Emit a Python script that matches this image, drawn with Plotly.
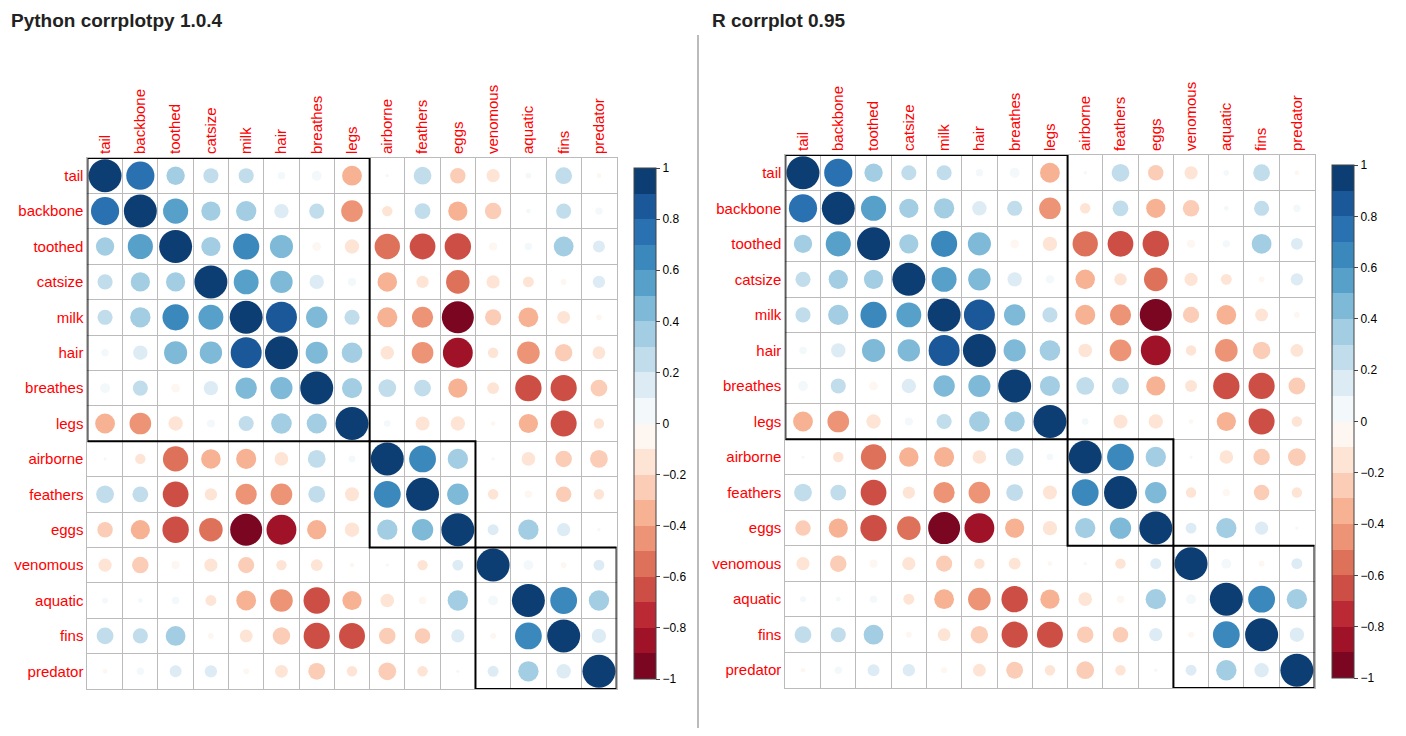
import numpy as np
import plotly.graph_objects as go
from plotly.colors import sample_colorscale

labels = ["tail","backbone","toothed","catsize","milk","hair","breathes","legs",
          "airborne","feathers","eggs","venomous","aquatic","fins","predator"]
# upper triangle rows (values to the right of diagonal)
upper = [
    [.73,.31,.21,.21,.05,.09,-.36,.01,.29,-.22,-.16,.03,.26,-.02],
    [.58,.34,.38,.19,.21,-.43,-.10,.23,-.34,-.25,.02,.21,.05],
    [.34,.63,.49,-.07,-.19,-.59,-.61,-.64,-.06,.05,.36,.13],
    [.57,.46,.19,.06,-.35,-.14,-.51,-.16,-.11,-.03,.14],
    [.88,.42,.21,-.37,-.41,-.94,-.24,-.36,-.15,-.03],
    [.45,.39,-.17,-.43,-.82,-.10,-.47,-.28,-.15],
    [.37,.29,.26,-.34,-.13,-.64,-.63,-.26],
    [.04,-.18,-.19,-.02,-.34,-.62,-.10],
    [.66,.38,.01,-.17,-.25,-.29],
    [.42,-.10,-.05,-.22,-.10],
    [.11,.38,.16,.01],
    [.09,-.03,.11],
    [.66,.38],
    [.19],
]
groups = [(0, 7), (8, 10), (11, 14)]
cb_ticks = [-1, -0.8, -0.6, -0.4, -0.2, 0, 0.2, 0.4, 0.6, 0.8, 1]

n = len(labels)
M = np.eye(n)
for i, row in enumerate(upper):
    for k, v in enumerate(row):
        M[i, i + 1 + k] = v
        M[i + 1 + k, i] = v

base = ['rgb(103,0,31)', 'rgb(178,24,43)', 'rgb(214,96,77)', 'rgb(244,165,130)',
        'rgb(253,219,199)', 'rgb(255,255,255)', 'rgb(209,229,240)', 'rgb(146,197,222)',
        'rgb(67,147,195)', 'rgb(33,102,172)', 'rgb(5,48,97)']
nb = 20
cols = sample_colorscale(base, [(k + 0.5) / nb for k in range(nb)])
cscale = []
for k, c in enumerate(cols):
    cscale += [[k / nb, c], [(k + 1) / nb, c]]

OX, OY = 9, 8
W, H = 1406 - 2 * OX, 736 - 2 * OY
panels = [
    dict(x0=89, x1=622, y0=158, y1=689, cbx=629),
    dict(x0=792, x1=1325, y0=155, y1=688, cbx=1333),
]
def px(x): return (x - OX) / W
def py(y): return 1 - (y - OY) / H

fig = go.Figure()
xs, ys, vs = [], [], []
for i in range(n):
    for j in range(n):
        xs.append(j); ys.append(i); vs.append(M[i, j])
vs = np.array(vs)
shapes = []
for p, P in enumerate(panels):
    sfx = "" if p == 0 else "2"
    fig.add_trace(go.Scatter(
        x=xs, y=ys, mode="markers", xaxis="x" + sfx, yaxis="y" + sfx,
        marker=dict(size=33 * np.sqrt(np.abs(vs)), color=vs, cmin=-1, cmax=1,
                    opacity=1,
                    colorscale=cscale, line=dict(width=0),
                    colorbar=dict(x=px(P["cbx"]), xanchor="left", thickness=22,
                                  y=(py(P["y0"]) + py(P["y1"])) / 2, yanchor="middle",
                                  len=py(P["y0"]) - py(P["y1"]), lenmode="fraction",
                                  tickvals=cb_ticks, ticks="outside", ticklen=4,
                                  outlinecolor="#444", outlinewidth=1,
                                  tickfont=dict(size=12, color="#000"))),
        showlegend=False, hoverinfo="skip"))
    ax = dict(domain=[px(P["x0"]), px(P["x1"])], range=[-0.5, n - 0.5],
              tickvals=list(range(n)), ticktext=labels, side="top", tickangle=-90,
              tickfont=dict(color="red", size=15), showgrid=False, zeroline=False,
              showline=True, mirror=True, linecolor="#bbb", ticks="",
              minor=dict(tick0=-0.5, dtick=1, showgrid=True, gridcolor="#bbb"))
    ay = dict(domain=[py(P["y1"]), py(P["y0"])], range=[n - 0.5, -0.5],
              tickvals=list(range(n)), ticktext=labels,
              tickfont=dict(color="red", size=15), showgrid=False, zeroline=False,
              showline=True, mirror=True, linecolor="#bbb", ticks="",
              minor=dict(tick0=-0.5, dtick=1, showgrid=True, gridcolor="#bbb"))
    if p == 1:
        ay["anchor"] = "x2"; ax["anchor"] = "y2"
    fig.update_layout(**{"xaxis" + sfx: ax, "yaxis" + sfx: ay})
    for a, b in groups:
        shapes.append(dict(type="rect", xref="x" + sfx, yref="y" + sfx,
                           x0=a - 0.5, x1=b + 0.5, y0=a - 0.5, y1=b + 0.5,
                           line=dict(color="black", width=2)))
shapes.append(dict(type="line", xref="paper", yref="paper", x0=px(704), x1=px(704),
                   y0=0, y1=py(35), line=dict(color="#bbb", width=2)))

fig.update_layout(
    width=W, height=H, margin=dict(l=0, r=0, t=0, b=0),
    paper_bgcolor="white", plot_bgcolor="white",
    font=dict(family="Liberation Sans, Arial, sans-serif"),
    shapes=shapes,
    annotations=[
        dict(text="<b>Python corrplotpy 1.0.4</b>", x=px(10), y=py(20), xref="paper",
             yref="paper", xanchor="left", yanchor="middle", showarrow=False,
             font=dict(size=19, color="#222")),
        dict(text="<b>R corrplot 0.95</b>", x=px(716), y=py(20), xref="paper",
             yref="paper", xanchor="left", yanchor="middle", showarrow=False,
             font=dict(size=19, color="#222")),
    ],
)
fig.write_html("out.html")
